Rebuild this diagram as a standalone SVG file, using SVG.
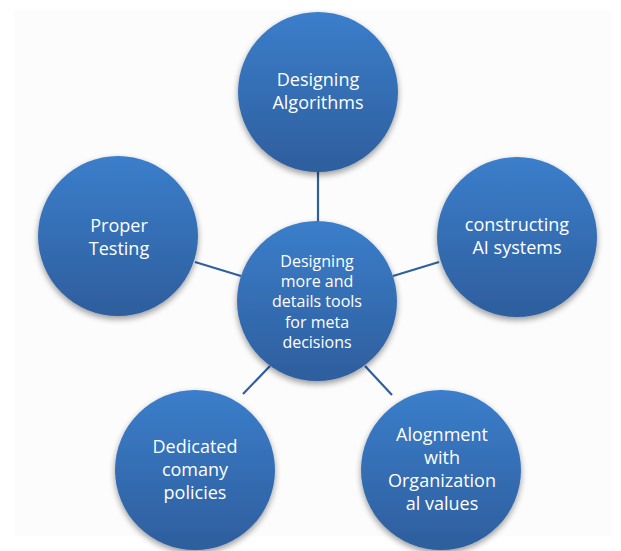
<svg xmlns="http://www.w3.org/2000/svg" width="621" height="551" viewBox="0 0 621 551">
<defs>
<linearGradient id="g" x1="0" y1="0" x2="0" y2="1">
<stop offset="0" stop-color="#3b7ecb"/>
<stop offset="1" stop-color="#2e5e9d"/>
</linearGradient>
<filter id="sh" x="-20%" y="-20%" width="140%" height="150%">
<feGaussianBlur in="SourceAlpha" stdDeviation="3"/>
<feOffset dy="3" result="b"/>
<feComponentTransfer><feFuncA type="linear" slope="0.4"/></feComponentTransfer>
<feMerge><feMergeNode/><feMergeNode in="SourceGraphic"/></feMerge>
</filter>
</defs>
<style>
.n{fill:url(#g);filter:url(#sh)}
.t{fill:#fff;font-family:"Open Sans","Liberation Sans",sans-serif;font-size:18px;text-anchor:middle}
.tc{font-size:16px}
.c{stroke:#2f5f9e;stroke-width:2.2;fill:none}
</style>
<rect width="621" height="551" fill="#fff"/>
<rect x="14" y="10" width="598" height="526" fill="#fcfcfc"/>
<g id="connectors">
<line class="c" x1="318" y1="170" x2="318" y2="223"/>
<line class="c" x1="195" y1="262" x2="241" y2="276"/>
<line class="c" x1="439" y1="262" x2="393" y2="276"/>
<line class="c" x1="243" y1="394" x2="270" y2="366"/>
<line class="c" x1="392" y1="395" x2="365" y2="366"/>
</g>
<g id="center">
<circle class="n" cx="317" cy="301" r="80"/>
<text class="t tc" x="317" y="267">Designing</text>
<text class="t tc" x="317" y="287">more and</text>
<text class="t tc" x="317" y="307">details tools</text>
<text class="t tc" x="317" y="328">for meta</text>
<text class="t tc" x="317" y="348">decisions</text>
</g>
<g id="top">
<circle class="n" cx="318" cy="92" r="80"/>
<text class="t" x="318" y="86">Designing</text>
<text class="t" x="318" y="109">Algorithms</text>
</g>
<g id="left">
<circle class="n" cx="118" cy="236" r="80"/>
<text class="t" x="119" y="232">Proper</text>
<text class="t" x="119" y="255">Testing</text>
</g>
<g id="right">
<circle class="n" cx="517" cy="237" r="80"/>
<text class="t" x="517" y="231">constructing</text>
<text class="t" x="517" y="254">AI systems</text>
</g>
<g id="bottom-left">
<circle class="n" cx="195" cy="470" r="80"/>
<text class="t" x="195" y="453">Dedicated</text>
<text class="t" x="195" y="476">comany</text>
<text class="t" x="195" y="499">policies</text>
</g>
<g id="bottom-right">
<circle class="n" cx="441" cy="470" r="80"/>
<text class="t" x="442" y="441">Alognment</text>
<text class="t" x="442" y="464">with</text>
<text class="t" x="442" y="487">Organization</text>
<text class="t" x="442" y="510">al values</text>
</g>
</svg>
